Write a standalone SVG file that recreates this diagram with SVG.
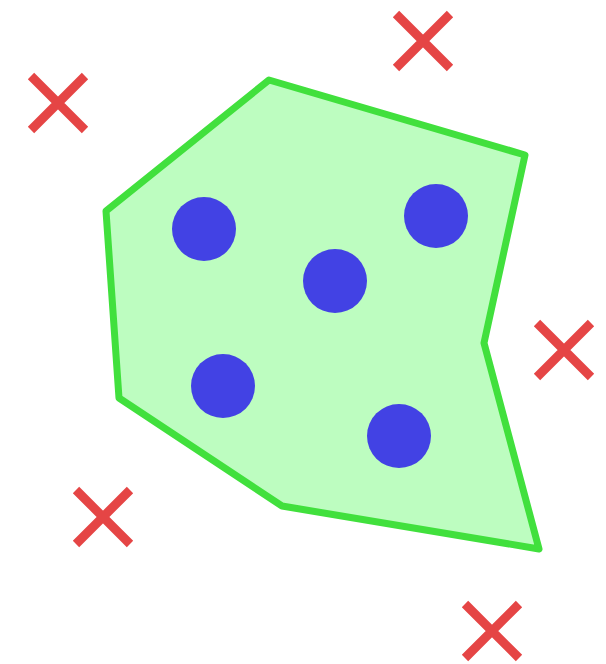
<svg xmlns="http://www.w3.org/2000/svg" width="606" height="664" viewBox="0 0 606 664">
<style>
.hull{fill:#bdfdc0;stroke:#41e03d;stroke-width:7;stroke-linejoin:round}
.pt{fill:#4242e4}
.x{stroke:#e54545;stroke-width:9;stroke-linecap:butt}
</style>
<rect width="606" height="664" fill="#ffffff"/>
<polygon class="hull" points="269,80 525,155 484,343 539,549 282,506 119,398 106,211"/>
<g id="points">
<circle class="pt" cx="204" cy="229" r="32"/>
<circle class="pt" cx="436" cy="216" r="32"/>
<circle class="pt" cx="335" cy="281" r="32"/>
<circle class="pt" cx="223" cy="386" r="32"/>
<circle class="pt" cx="399" cy="436" r="32"/>
</g>
<g id="outliers">
<path class="x" d="M31,76 L85,130 M85,76 L31,130"/>
<path class="x" d="M396,14 L450,68 M450,14 L396,68"/>
<path class="x" d="M537,323 L591,377 M591,323 L537,377"/>
<path class="x" d="M76,490 L130,544 M130,490 L76,544"/>
<path class="x" d="M465,604 L519,658 M519,604 L465,658"/>
</g>
</svg>
